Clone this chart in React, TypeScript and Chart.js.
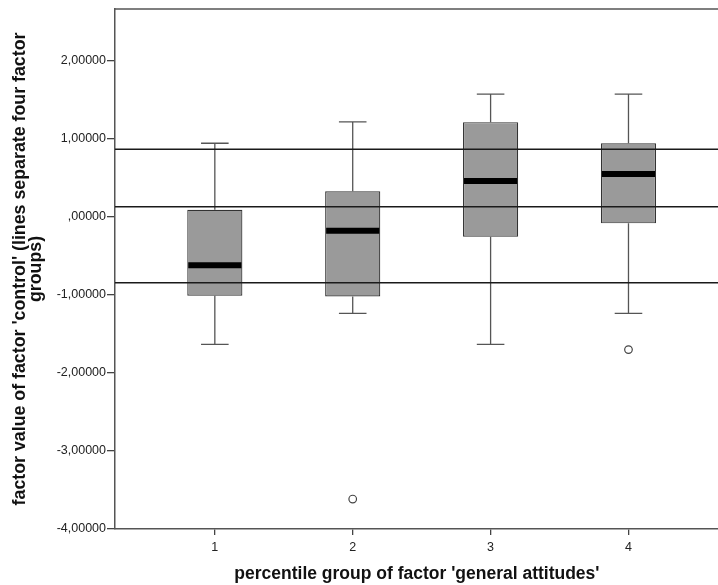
import React, { useEffect, useRef } from "react";
import { Chart, registerables } from "chart.js";

Chart.register(...registerables);

const categories = [1, 2, 3, 4];
const lowerWhisker = [-1.634, -1.236, -1.634, -1.236];
const q1 = [-1.01, -1.018, -0.253, -0.081];
const median = [-0.62, -0.176, 0.462, 0.552];
const q3 = [0.094, 0.33, 1.216, 0.946];
const upperWhisker = [0.946, 1.22, 1.575, 1.575];
const outlierGroups = [2, 4];
const outlierValues = [-3.616, -1.7];
const referenceLines = [0.869, 0.132, -0.843];
const yTicks = [-4, -3, -2, -1, 0, 1, 2];
const xTicks = [1, 2, 3, 4];

const FONT = "'Liberation Sans', Arial, Helvetica, sans-serif";

function fmt(v: number): string {
  return v.toFixed(5).replace(".", ",").replace(/^(-?)0,/, "$1,");
}

const boxPlugin = {
  id: "boxExtras",
  afterDatasetsDraw(chart: any) {
    const { ctx, chartArea, scales } = chart;
    const xs = scales.x;
    const ys = scales.y;
    ctx.save();
    categories.forEach((c, i) => {
      const cx = xs.getPixelForValue(c);
      const capHalf = xs.getPixelForValue(c + 0.1) - cx;
      const boxHalf = xs.getPixelForValue(c + 0.2) - cx;
      ctx.strokeStyle = "#555";
      ctx.lineWidth = 1.3;
      ctx.beginPath();
      ctx.moveTo(cx, ys.getPixelForValue(q3[i]));
      ctx.lineTo(cx, ys.getPixelForValue(upperWhisker[i]));
      ctx.moveTo(cx - capHalf, ys.getPixelForValue(upperWhisker[i]));
      ctx.lineTo(cx + capHalf, ys.getPixelForValue(upperWhisker[i]));
      ctx.moveTo(cx, ys.getPixelForValue(q1[i]));
      ctx.lineTo(cx, ys.getPixelForValue(lowerWhisker[i]));
      ctx.moveTo(cx - capHalf, ys.getPixelForValue(lowerWhisker[i]));
      ctx.lineTo(cx + capHalf, ys.getPixelForValue(lowerWhisker[i]));
      ctx.stroke();
      ctx.strokeStyle = "#000";
      ctx.lineWidth = 6;
      ctx.beginPath();
      ctx.moveTo(cx - boxHalf + 1, ys.getPixelForValue(median[i]));
      ctx.lineTo(cx + boxHalf - 1, ys.getPixelForValue(median[i]));
      ctx.stroke();
    });
    ctx.strokeStyle = "#1a1a1a";
    ctx.lineWidth = 1.4;
    referenceLines.forEach((v) => {
      const y = ys.getPixelForValue(v);
      ctx.beginPath();
      ctx.moveTo(chartArea.left, y);
      ctx.lineTo(chartArea.right, y);
      ctx.stroke();
    });
    ctx.strokeStyle = "#555";
    ctx.lineWidth = 1.5;
    ctx.beginPath();
    ctx.moveTo(chartArea.left, chartArea.top);
    ctx.lineTo(chartArea.right, chartArea.top);
    ctx.stroke();
    ctx.restore();
  },
};

export default function App() {
  const ref = useRef<HTMLCanvasElement | null>(null);
  useEffect(() => {
    if (!ref.current) return;
    const chart = new Chart(ref.current, {
      type: "bar",
      data: {
        datasets: [
          {
            type: "bar",
            data: categories.map((c, i) => ({ x: c, y: [q1[i], q3[i]] })) as any,
            backgroundColor: "#9a9a9a",
            borderColor: "#333",
            borderWidth: 1.2,
            borderSkipped: false,
            categoryPercentage: 1,
            barPercentage: 0.4,
            order: 2,
          },
          {
            type: "scatter",
            data: outlierGroups.map((g, i) => ({ x: g, y: outlierValues[i] })),
            pointRadius: 3.8,
            pointBackgroundColor: "#fff",
            pointBorderColor: "#444",
            pointBorderWidth: 1.2,
            order: 1,
          } as any,
        ],
      },
      options: {
        animation: false,
        responsive: false,
        layout: { padding: { top: 9, left: 0, right: 0, bottom: 0 } },
        plugins: { legend: { display: false }, tooltip: { enabled: false } },
        scales: {
          x: {
            type: "linear",
            offset: false,
            min: 0.276,
            max: 4.655,
            afterBuildTicks: (s: any) => {
              s.ticks = xTicks.map((v) => ({ value: v }));
            },
            afterFit: (s: any) => {
              s.height = 56;
            },
            grid: { offset: false, drawOnChartArea: false, drawTicks: true, tickLength: 6, color: "#444", lineWidth: 1.3 },
            border: { display: true, color: "#555", width: 1.5 },
            ticks: {
              padding: 5,
              color: "#222",
              font: { family: FONT, size: 12.5 },
              callback: (v: any) => String(v),
            },
            title: {
              display: true,
              text: "percentile group of factor 'general attitudes'",
              color: "#111",
              font: { family: FONT, size: 17.5, weight: "bold", lineHeight: 1.2 },
              padding: { top: 0, bottom: 0 },
            },
          },
          y: {
            type: "linear",
            min: -4,
            max: 2.667,
            afterBuildTicks: (s: any) => {
              s.ticks = yTicks.map((v) => ({ value: v }));
            },
            afterFit: (s: any) => {
              s.width = 115;
            },
            grid: { drawOnChartArea: false, drawTicks: true, tickLength: 8, color: "#444", lineWidth: 1.3 },
            border: { display: true, color: "#555", width: 1.5 },
            ticks: {
              padding: 1,
              color: "#222",
              font: { family: FONT, size: 12.5 },
              callback: (v: any) => fmt(Number(v)),
            },
            title: {
              display: true,
              text: ["factor value of factor 'control' (lines separate four factor", "groups)"],
              color: "#111",
              font: { family: FONT, size: 17.8, weight: "bold", lineHeight: 0.9 },
              padding: { top: 12, bottom: 0 },
            },
          },
        },
      },
      plugins: [boxPlugin],
    } as any);
    return () => chart.destroy();
  }, []);
  return (
    <div style={{ position: "absolute", left: 0, top: 0, width: 718, height: 585, overflow: "hidden" }}>
      <canvas ref={ref} width={724} height={585} style={{ display: "block" }} />
    </div>
  );
}
